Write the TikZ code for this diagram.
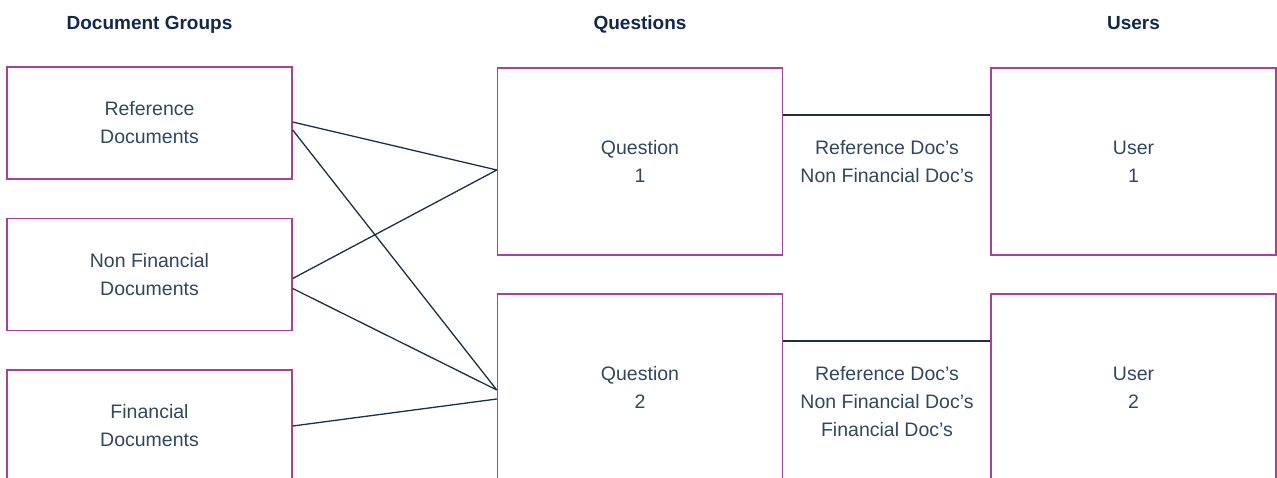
\documentclass[tikz,border=0pt]{standalone}
\usepackage{fontspec}
\setmainfont{Liberation Sans}
\usepackage{tikz}
\usetikzlibrary{calc, positioning}
\definecolor{boxpurple}{HTML}{A8409F}
\definecolor{linenavy}{HTML}{1B2F4A}
\definecolor{textnavy}{HTML}{30475F}
\definecolor{headnavy}{HTML}{10284A}

\tikzset{
  docbox/.style={draw=boxpurple, line width=1.4pt, minimum width=285pt, minimum height=112pt, inner sep=0pt, align=center, text=textnavy, font=\fontsize{19.5}{28}\selectfont},
  bigbox/.style={docbox, minimum height=187pt},
  header/.style={anchor=base, text=headnavy, font=\fontsize{19}{22}\selectfont\bfseries},
  docnote/.style={align=center, text=textnavy, font=\fontsize{19.5}{28}\selectfont},
  link/.style={draw=linenavy, line width=1.3pt}
}

\begin{document}
\begin{tikzpicture}[x=1pt,y=-1pt,node distance=2cm,on grid]
    \useasboundingbox (0,0) rectangle (1277,477);

      \node[header] (h_docs) at (149.5,29) {Document Groups};
      \node[header] (h_quest) at (640,29) {Questions};
      \node[header] (h_users) at (1133.5,29) {Users};

      \node[docbox] (ref) at (149.5,123) {Reference\\Documents};
      \node[docbox] (nonfin) [below=151.5pt of ref] {Non Financial\\Documents};
      \node[docbox] (fin) [below=151.5pt of nonfin] {Financial\\Documents};

      \node[bigbox] (q1) at (640,161.5) {Question\\1};
      \node[bigbox] (q2) [below=226pt of q1] {Question\\2};

      \node[bigbox] (u1) [right=493.5pt of q1] {User\\1};
      \node[bigbox] (u2) [right=493.5pt of q2] {User\\2};

      \node[docnote] (n1) at (887,162) {Reference Doc’s\\Non Financial Doc’s};
      \node[docnote] (n2) at (887,402) {Reference Doc’s\\Non Financial Doc’s\\Financial Doc’s};

      \path[link] ([yshift=1pt]ref.east) -- ([yshift=-8.5pt]q1.west)
                  ([yshift=-7pt]ref.east) -- ([yshift=-2.5pt]q2.west)
                  ([yshift=-4pt]nonfin.east) -- ([yshift=-8.5pt]q1.west)
                  ([yshift=-14pt]nonfin.east) -- ([yshift=-2.5pt]q2.west)
                  (fin.east) -- ([yshift=-11.5pt]q2.west);

      \path[link] ([yshift=46.5pt]q1.east) -- ([yshift=46.5pt]u1.west)
                  ([yshift=46.5pt]q2.east) -- ([yshift=46.5pt]u2.west);
    \end{tikzpicture}
\end{document}
